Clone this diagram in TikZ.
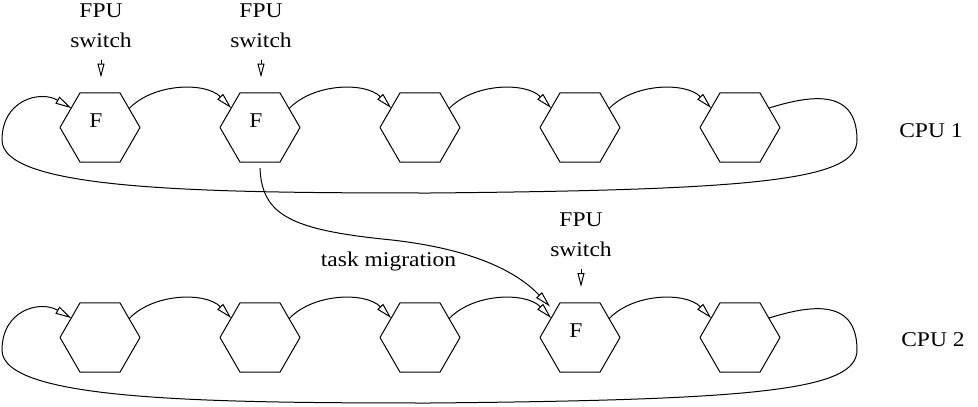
\documentclass[tikz,border=0pt]{standalone}
\usepackage{fontspec}
\setmainfont{Liberation Serif}[FakeStretch=1.12]
\usetikzlibrary{arrows.meta,shapes.geometric,calc}
\begin{document}
\begin{tikzpicture}[x=1pt,y=-1pt,line join=round]
\tikzset{
  hex/.style={draw, regular polygon, regular polygon sides=6, minimum size=80pt, inner sep=0pt, outer sep=0pt, line width=1pt},
  arr/.style={line width=1pt, -{Triangle[open, length=16pt, width=8pt]}},
  smalltip/.style={line width=1pt, -{Triangle[open, length=14pt, width=7pt]}},
  txt/.style={font=\fontsize{21}{30}\selectfont, inner sep=0pt, align=center},
}
\useasboundingbox (0,0) rectangle (978,407);

% hexagons
\foreach \i/\x in {1/100,2/260,3/420,4/580,5/740} {
  \node[hex] (r1h\i) at (\x,127.5) {};
  \node[hex] (r2h\i) at (\x,337.5) {};
}
% F letters
\node[txt] (f1) at ($(r1h1)+(-4,-7)$) {F};
\node[txt] (f2) at ($(r1h2)+(-4,-7)$) {F};
\node[txt] (f3) at ($(r2h4)+(-4,-7)$) {F};

% chain arrows
\foreach \i/\j in {1/2,2/3,3/4,4/5} {
  \draw[arr] (r1h\i.33) .. controls +(25,-26) and +(-25,-26) .. (r1h\j.146);
  \draw[arr] (r2h\i.33) .. controls +(25,-26) and +(-25,-26) .. (r2h\j.146);
}

% loops
\draw[arr] (r1h5.34) .. controls (805,97) and (857,85) .. (857,140)
  .. controls (857,180) and (760,190) .. (430,193)
  .. controls (200,193) and (2,190) .. (2,140)
  .. controls (2,100) and (40,90) .. (r1h1.146);
\begin{scope}[yshift=-210pt]
\draw[arr] (r2h5.34) .. controls (805,97) and (857,85) .. (857,140)
  .. controls (857,180) and (760,190) .. (430,193)
  .. controls (200,193) and (2,190) .. (2,140)
  .. controls (2,100) and (40,90) .. (r2h1.146);
\end{scope}

% FPU switch labels
\node[txt, anchor=south] (fs1) at (101,47.5) {FPU\\switch};
\node[txt, anchor=south] (fs2) at (261,47.5) {FPU\\switch};
\node[txt, anchor=south] (fs3) at (581,257) {FPU\\switch};
\foreach \n in {fs1,fs2,fs3}
  \draw[smalltip] ($(\n.south)+(0,12)$) -- ($(\n.south)+(0,30)$);

% task migration
\coordinate (mt) at ($(r2h4)+(-30,-31)$);
\draw[arr] ($(r1h2.south)+(0,6)$) .. controls (262,215) and (290,230) .. (392,240)
  .. controls (480,250) and (520,275) .. (mt);
\node[txt, anchor=base] (tm) at (388.5,266.7) {task migration};

% CPU labels
\node[txt] (cpu1) at (931,131) {CPU 1};
\node[txt] (cpu2) at (933,340) {CPU 2};
\end{tikzpicture}
\end{document}
